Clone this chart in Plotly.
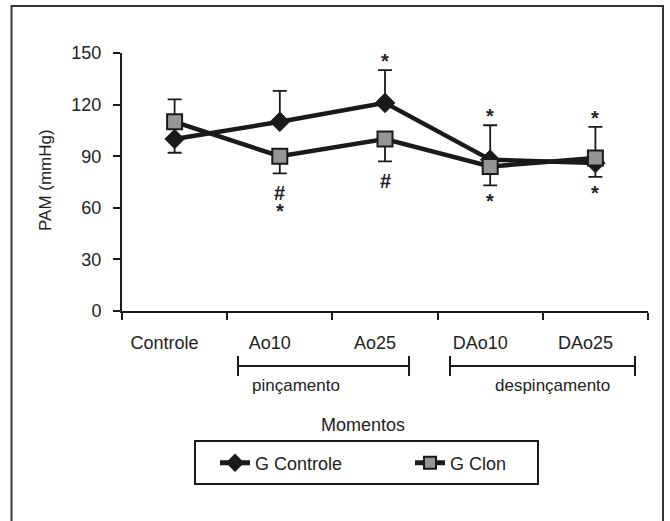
import plotly.graph_objects as go

# ---- data ----
categories = ["Controle", "Ao10", "Ao25", "DAo10", "DAo25"]
g_controle = [100, 110, 121, 88, 86]
g_controle_err_plus = [0, 18, 19, 20, 0]
g_controle_err_minus = [8, 0, 0, 0, 8]
g_clon = [110, 90, 100, 84, 89]
g_clon_err_plus = [13, 0, 0, 0, 18]
g_clon_err_minus = [0, 10, 13, 11, 0]
# significance marks per category (stacked with "|")
sig_controle_above = ["", "", "*", "*", ""]
sig_controle_below = ["", "", "", "", "*"]
sig_clon_above = ["", "", "", "", "*"]
sig_clon_below = ["", "#|*", "#", "*", ""]
y_ticks = [0, 30, 60, 90, 120, 150]

W, H = 670, 521
L, R, T, B = 122, 648, 53, 311


def px(x):
    return (x - L) / (R - L)


def py(y):
    return (B - y) / (B - T)


FONT = "Liberation Sans, Arial, sans-serif"
TXT = "#222222"
BLK = "#1a1a1a"

fig = go.Figure()
fig.add_trace(go.Scatter(
    x=categories, y=g_controle, name="G Controle", mode="lines+markers",
    line=dict(color=BLK, width=4.5),
    marker=dict(symbol="diamond", size=15, color=BLK,
                line=dict(color=BLK, width=1)),
    error_y=dict(type="data", symmetric=False, array=g_controle_err_plus,
                 arrayminus=g_controle_err_minus, color=BLK,
                 thickness=1.8, width=7),
))
fig.add_trace(go.Scatter(
    x=categories, y=g_clon, name="G Clon", mode="lines+markers",
    line=dict(color=BLK, width=4.5),
    marker=dict(symbol="square", size=15, color="#959595",
                line=dict(color=BLK, width=2)),
    error_y=dict(type="data", symmetric=False, array=g_clon_err_plus,
                 arrayminus=g_clon_err_minus, color=BLK,
                 thickness=1.8, width=7),
))

annotations = []


def add_sig(vals, errs, marks, above):
    for i, m in enumerate(marks):
        if not m:
            continue
        parts = m.split("|")
        tip = vals[i] + errs[i] if above else vals[i] - errs[i]
        for k, t in enumerate(parts):
            if above:
                shift = 9 + 17 * k
            elif k == 0:
                shift = -20 if t == "#" else -16
            else:
                shift = -38
            annotations.append(dict(
                x=categories[i], y=tip, xref="x", yref="y", text="<b>%s</b>" % t,
                showarrow=False, yshift=shift, xanchor="center", yanchor="middle",
                borderpad=0,
                font=dict(family=FONT, size=20, color=TXT)))


add_sig(g_controle, g_controle_err_plus, sig_controle_above, True)
add_sig(g_controle, g_controle_err_minus, sig_controle_below, False)
add_sig(g_clon, g_clon_err_plus, sig_clon_above, True)
add_sig(g_clon, g_clon_err_minus, sig_clon_below, False)


def txt(x, y, s, size=18, angle=0):
    annotations.append(dict(x=px(x), y=py(y), xref="paper", yref="paper",
                            text=s, textangle=angle, showarrow=False,
                            xanchor="center", yanchor="middle",
                            font=dict(family=FONT, size=size, color=TXT)))


txt(45, 180, "PAM (mmHg)", 17, -90)
txt(296, 385, "pinçamento", 17)
txt(552, 385, "despinçamento", 17)
txt(363, 425, "Momentos", 18)

shapes = []
# outer frame
shapes.append(dict(type="rect", xref="paper", yref="paper",
                   x0=px(11.5), x1=px(663), y0=py(540), y1=py(6),
                   line=dict(color="#333333", width=2)))
# legend box
shapes.append(dict(type="rect", xref="paper", yref="paper",
                   x0=px(195), x1=px(538), y0=py(484), y1=py(441),
                   line=dict(color=BLK, width=2)))
# brackets
for x0, x1 in [(238, 409), (450, 635)]:
    lc = dict(color=BLK, width=2)
    shapes.append(dict(type="line", xref="paper", yref="paper",
                       x0=px(x0), x1=px(x1), y0=py(366), y1=py(366), line=lc))
    for xx in (x0, x1):
        shapes.append(dict(type="line", xref="paper", yref="paper",
                           x0=px(xx), x1=px(xx), y0=py(356), y1=py(376), line=lc))

fig.update_layout(
    width=W, height=H,
    margin=dict(l=L, r=W - R, t=T, b=H - B),
    paper_bgcolor="white", plot_bgcolor="white",
    font=dict(family=FONT, size=18, color=TXT),
    showlegend=True,
    legend=dict(orientation="h", x=px(215), y=py(463), xanchor="left",
                yanchor="middle", borderwidth=0, bgcolor="rgba(0,0,0,0)",
                entrywidth=150, itemsizing="constant",
                font=dict(family=FONT, size=18, color=TXT)),
    annotations=annotations,
    shapes=shapes,
    xaxis=dict(type="category", range=[-0.5, 4.5], showgrid=False,
               showline=True, linecolor=BLK, linewidth=2,
               ticks="outside", ticklen=7, tickwidth=2, tickcolor=BLK,
               tickson="boundaries", ticklabelstandoff=14, ticklabelshift=-10,
               tickfont=dict(family=FONT, size=18, color=TXT), zeroline=False),
    yaxis=dict(range=[0, 150], tickvals=y_ticks, showgrid=False,
               showline=True, linecolor=BLK, linewidth=2,
               ticks="outside", ticklen=7, tickwidth=2, tickcolor=BLK,
               ticklabelstandoff=8,
               tickfont=dict(family=FONT, size=18, color=TXT), zeroline=False),
)

fig.write_html("out.html", config={"displayModeBar": False})
with open("out.html", encoding="utf-8") as f:
    html = f.read()
html = html.replace("<body>", '<body style="margin:0;padding:0;overflow:hidden">', 1)
with open("out.html", "w", encoding="utf-8") as f:
    f.write(html)
